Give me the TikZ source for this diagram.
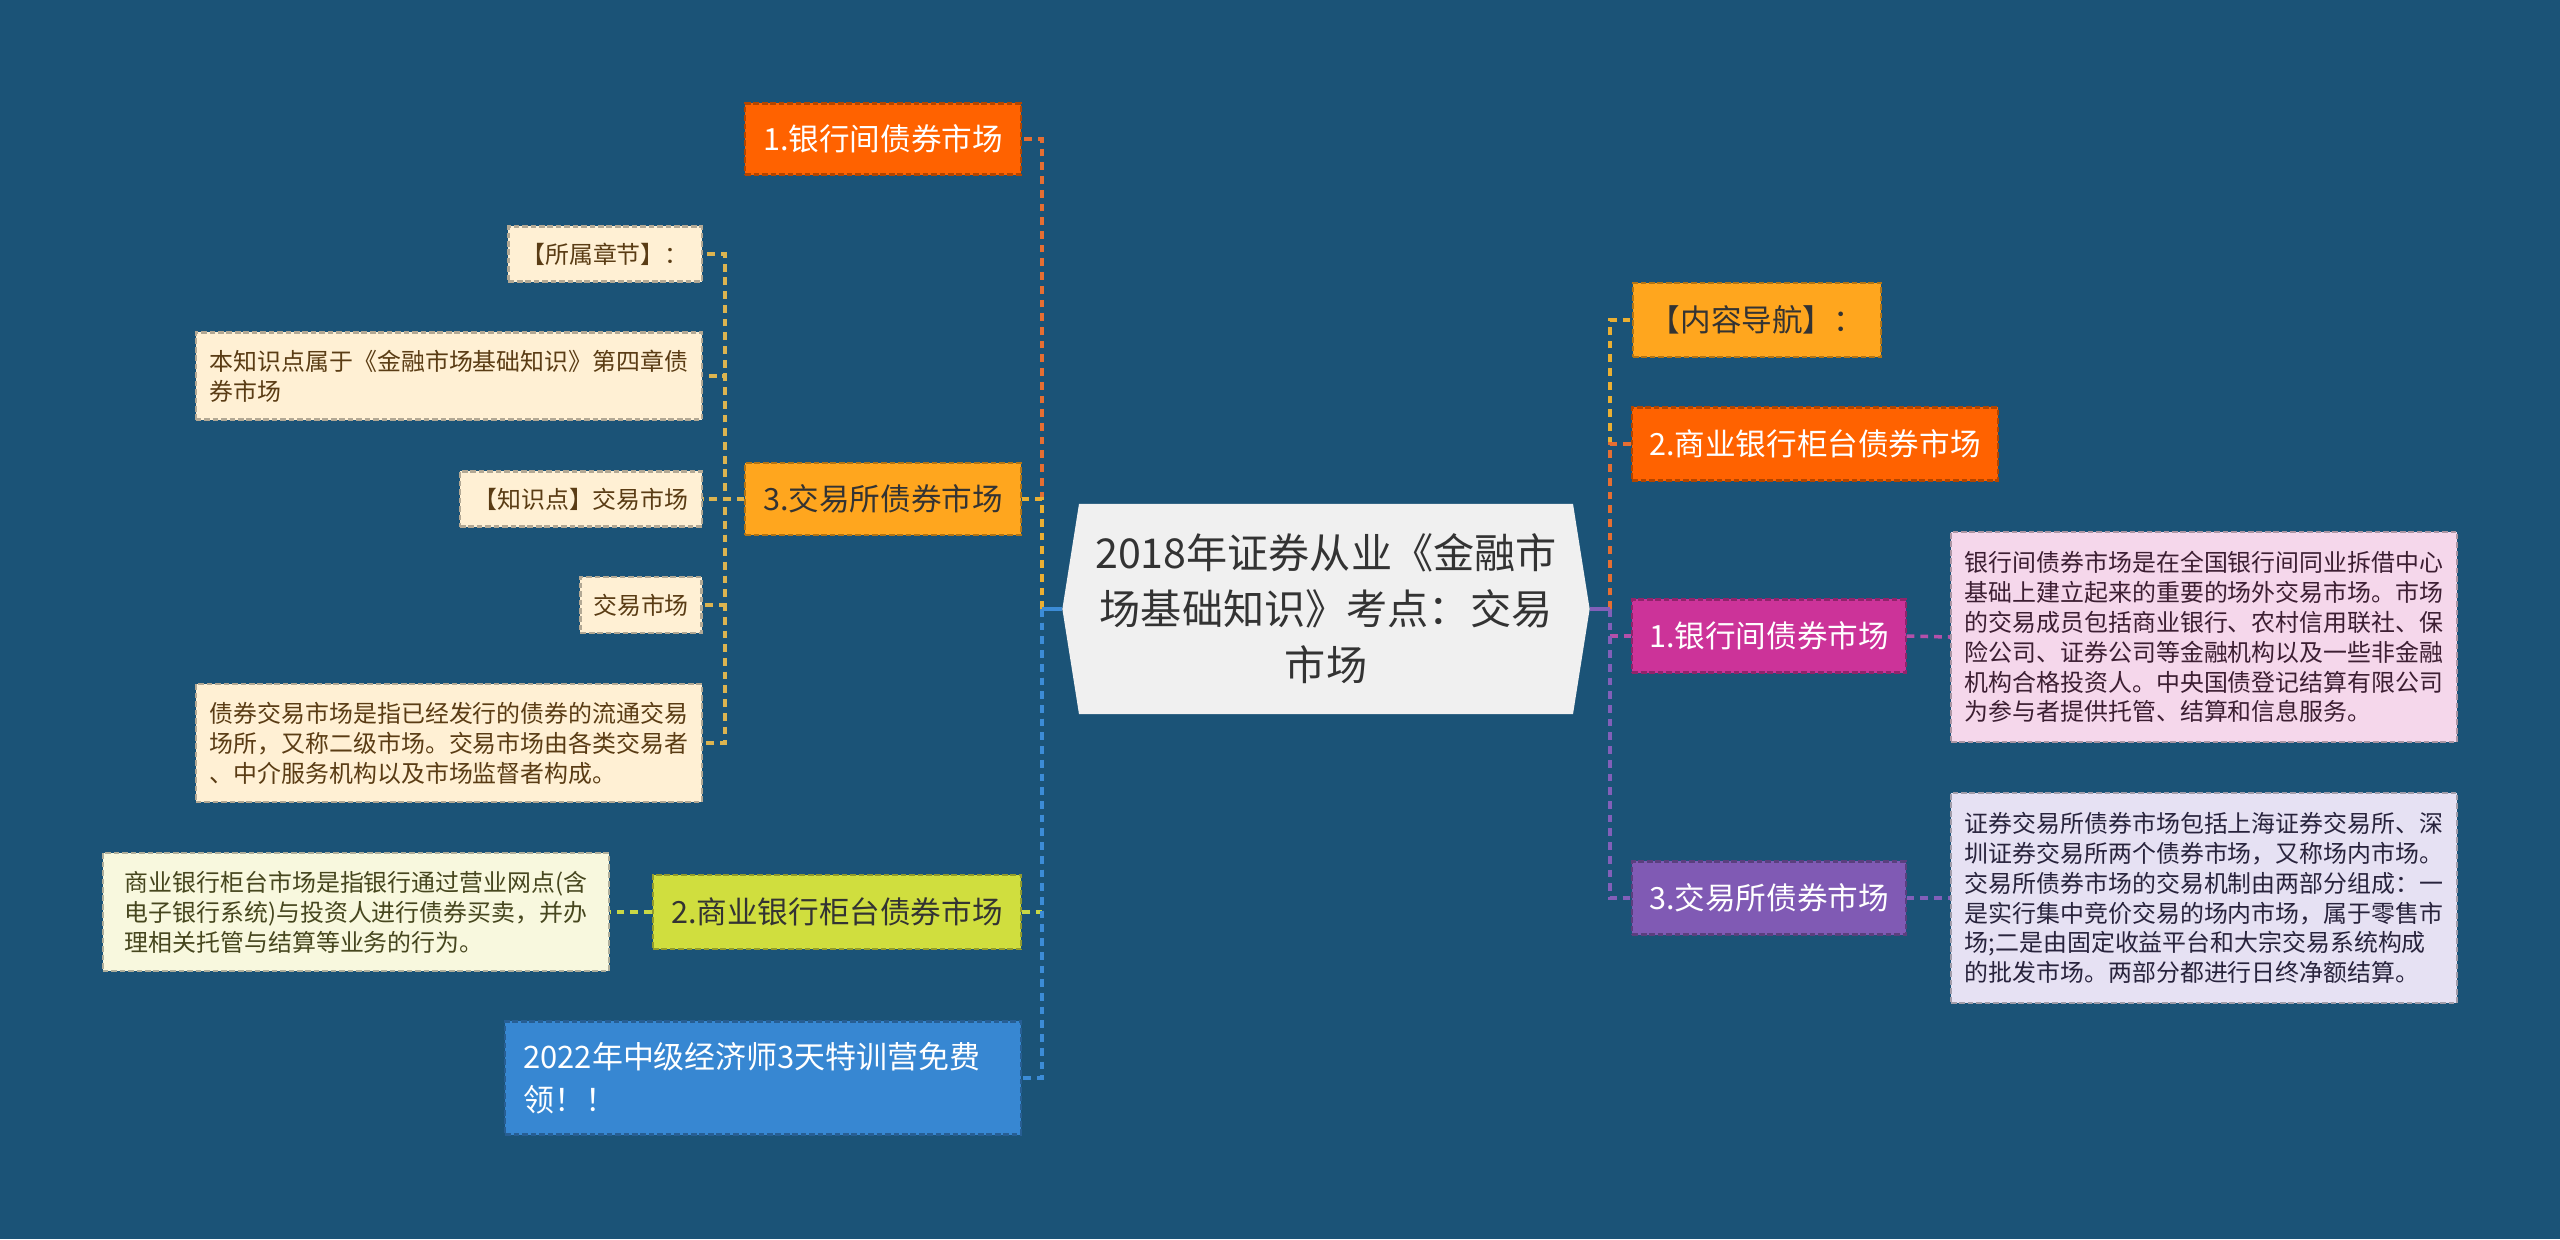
\documentclass[tikz,border=0pt]{standalone}
\usepackage{fontspec}
\newfontfamily\cjk{Noto Sans CJK SC}
\usetikzlibrary{shapes.symbols}
\definecolor{bgblue}{RGB}{27,83,119}
\definecolor{rootgray}{RGB}{240,240,240}
\definecolor{hotorange}{RGB}{255,98,0}
\definecolor{amber}{RGB}{255,166,30}
\definecolor{lime}{RGB}{208,222,62}
\definecolor{skyblue}{RGB}{55,135,210}
\definecolor{magenta}{RGB}{204,51,153}
\definecolor{violet}{RGB}{128,90,180}
\definecolor{cream}{RGB}{255,240,212}
\definecolor{ivory}{RGB}{248,248,222}
\definecolor{pinkish}{RGB}{245,215,235}
\definecolor{lavender}{RGB}{230,225,243}
\definecolor{inkgray}{RGB}{51,51,51}
\definecolor{inkbrown}{RGB}{90,60,20}
\definecolor{inkolive}{RGB}{70,70,30}
\definecolor{inkplum}{RGB}{60,30,50}
\definecolor{inkdeep}{RGB}{40,35,60}
\definecolor{lnorange}{RGB}{230,110,50}
\definecolor{lngold}{RGB}{235,175,50}
\definecolor{lnlime}{RGB}{200,215,70}
\definecolor{lnblue}{RGB}{60,140,215}
\definecolor{lnsand}{RGB}{220,180,80}
\definecolor{lnplum}{RGB}{180,80,170}
\definecolor{lnviolet}{RGB}{130,95,185}
\begin{document}
\begin{tikzpicture}[x=0.01cm, y=-0.01cm, font=\cjk,
  box/.style={draw=#1!70!black, fill=#1, line width=0.6pt, dash pattern=on 1.6pt off 0.8pt, inner sep=0pt, align=center},
  box/.default=white,
  main/.style={font=\cjk\fontsize{8.7}{12}\selectfont},
  leaf/.style={font=\cjk\fontsize{6.8}{8.5}\selectfont, align=left},
  link/.style={draw=#1, line width=1pt, dash pattern=on 2.2pt off 1.7pt}]
\fill[bgblue] (0,0) rectangle (2560,1239);
\node[signal, signal to=west and east, signal pointer angle=162, fill=rootgray, inner sep=0pt, minimum width=5.27cm, minimum height=2.1cm, align=center, text=inkgray, font=\cjk\fontsize{11.7}{15.9}\selectfont] (root) at (1326,609) {2018年证券从业《金融市\\场基础知识》考点：交易\\市场};
\coordinate (lhub) at (1042,609);
\coordinate (rhub) at (1610,609);
\coordinate (xhub) at (725,499);
% left branch
\node[box=hotorange, main, text=white, minimum width=2.75cm, minimum height=0.71cm] (bank) at (883,139) {1.银行间债券市场};
\node[box=amber, main, text=inkgray, minimum width=2.75cm, minimum height=0.72cm] (exch) at (883,499) {3.交易所债券市场};
\node[box=lime, main, text=inkgray, minimum width=3.68cm, minimum height=0.74cm] (counter) at (837,912) {2.商业银行柜台债券市场};
\node[box=skyblue, text=white, font=\cjk\fontsize{8.8}{12.2}\selectfont, align=left, text width=4.79cm, minimum width=5.15cm, minimum height=1.13cm] (promo) at (763,1078) {2022年中级经济师3天特训营免费\\领！！};
\node[box=cream, leaf, text=inkbrown, minimum width=1.93cm, minimum height=0.55cm] (chap) at (605,254) {【所属章节】：};
\node[box=cream, leaf, text=inkbrown, minimum width=5.06cm, minimum height=0.87cm] (chapv) at (449,376) {本知识点属于《金融市场基础知识》第四章债\\券市场};
\node[box=cream, leaf, text=inkbrown, minimum width=2.42cm, minimum height=0.55cm] (kp) at (581,499) {【知识点】交易市场};
\node[box=cream, leaf, text=inkbrown, minimum width=1.21cm, minimum height=0.56cm] (kpv) at (641,605) {交易市场};
\node[box=cream, leaf, text=inkbrown, minimum width=5.06cm, minimum height=1.18cm] (trade) at (449,743) {债券交易市场是指已经发行的债券的流通交易\\场所，又称二级市场。交易市场由各类交易者\\、中介服务机构以及市场监督者构成。};
\node[box=ivory, leaf, text=inkolive, minimum width=5.06cm, minimum height=1.18cm] (counterv) at (356,912) {商业银行柜台市场是指银行通过营业网点(含\\电子银行系统)与投资人进行债券买卖，并办\\理相关托管与结算等业务的行为。};
% right branch
\node[box=amber, main, text=inkgray, minimum width=2.48cm, minimum height=0.74cm] (nav) at (1757,320) {【内容导航】：};
\node[box=hotorange, main, text=white, minimum width=3.65cm, minimum height=0.73cm] (counterr) at (1815,444) {2.商业银行柜台债券市场};
\node[box=magenta, main, text=white, minimum width=2.73cm, minimum height=0.73cm] (bankr) at (1769,636) {1.银行间债券市场};
\node[box=violet, main, text=white, minimum width=2.73cm, minimum height=0.73cm] (exchr) at (1769,898) {3.交易所债券市场};
\node[box=pinkish, leaf, text=inkplum, minimum width=5.06cm, minimum height=2.1cm] (bankv) at (2204,637) {银行间债券市场是在全国银行间同业拆借中心\\基础上建立起来的重要的场外交易市场。市场\\的交易成员包括商业银行、农村信用联社、保\\险公司、证券公司等金融机构以及一些非金融\\机构合格投资人。中央国债登记结算有限公司\\为参与者提供托管、结算和信息服务。};
\node[box=lavender, leaf, text=inkdeep, minimum width=5.06cm, minimum height=2.1cm] (exchv) at (2204,898) {证券交易所债券市场包括上海证券交易所、深\\圳证券交易所两个债券市场，又称场内市场。\\交易所债券市场的交易机制由两部分组成：一\\是实行集中竞价交易的场内市场，属于零售市\\场;二是由固定收益平台和大宗交易系统构成\\的批发市场。两部分都进行日终净额结算。};
% connectors
\draw[link=lnorange] (lhub) |- (bank.east);
\draw[link=lngold] (lhub) |- (exch.east);
\draw[link=lnlime] (lhub) |- (counter.east);
\draw[link=lnblue] (lhub) |- (promo.east);
\draw[lnblue, line width=1pt] (root.west) -- (lhub);
\foreach \n in {chap,chapv,kp,kpv,trade} \draw[link=lnsand] (exch.west) -- (xhub) |- (\n.east);
\draw[link=lnlime] (counter.west) -- (counterv.east);
\draw[link=lngold] (rhub) |- (nav.west);
\draw[link=lnorange] (rhub) |- (counterr.west);
\draw[link=lnplum] (rhub) |- (bankr.west);
\draw[link=lnviolet] (rhub) |- (exchr.west);
\draw[lnviolet, line width=1pt] (root.east) -- (rhub);
\draw[link=lnplum] (bankr.east) -- (bankv.west);
\draw[link=lnviolet] (exchr.east) -- (exchv.west);
\end{tikzpicture}
\end{document}
